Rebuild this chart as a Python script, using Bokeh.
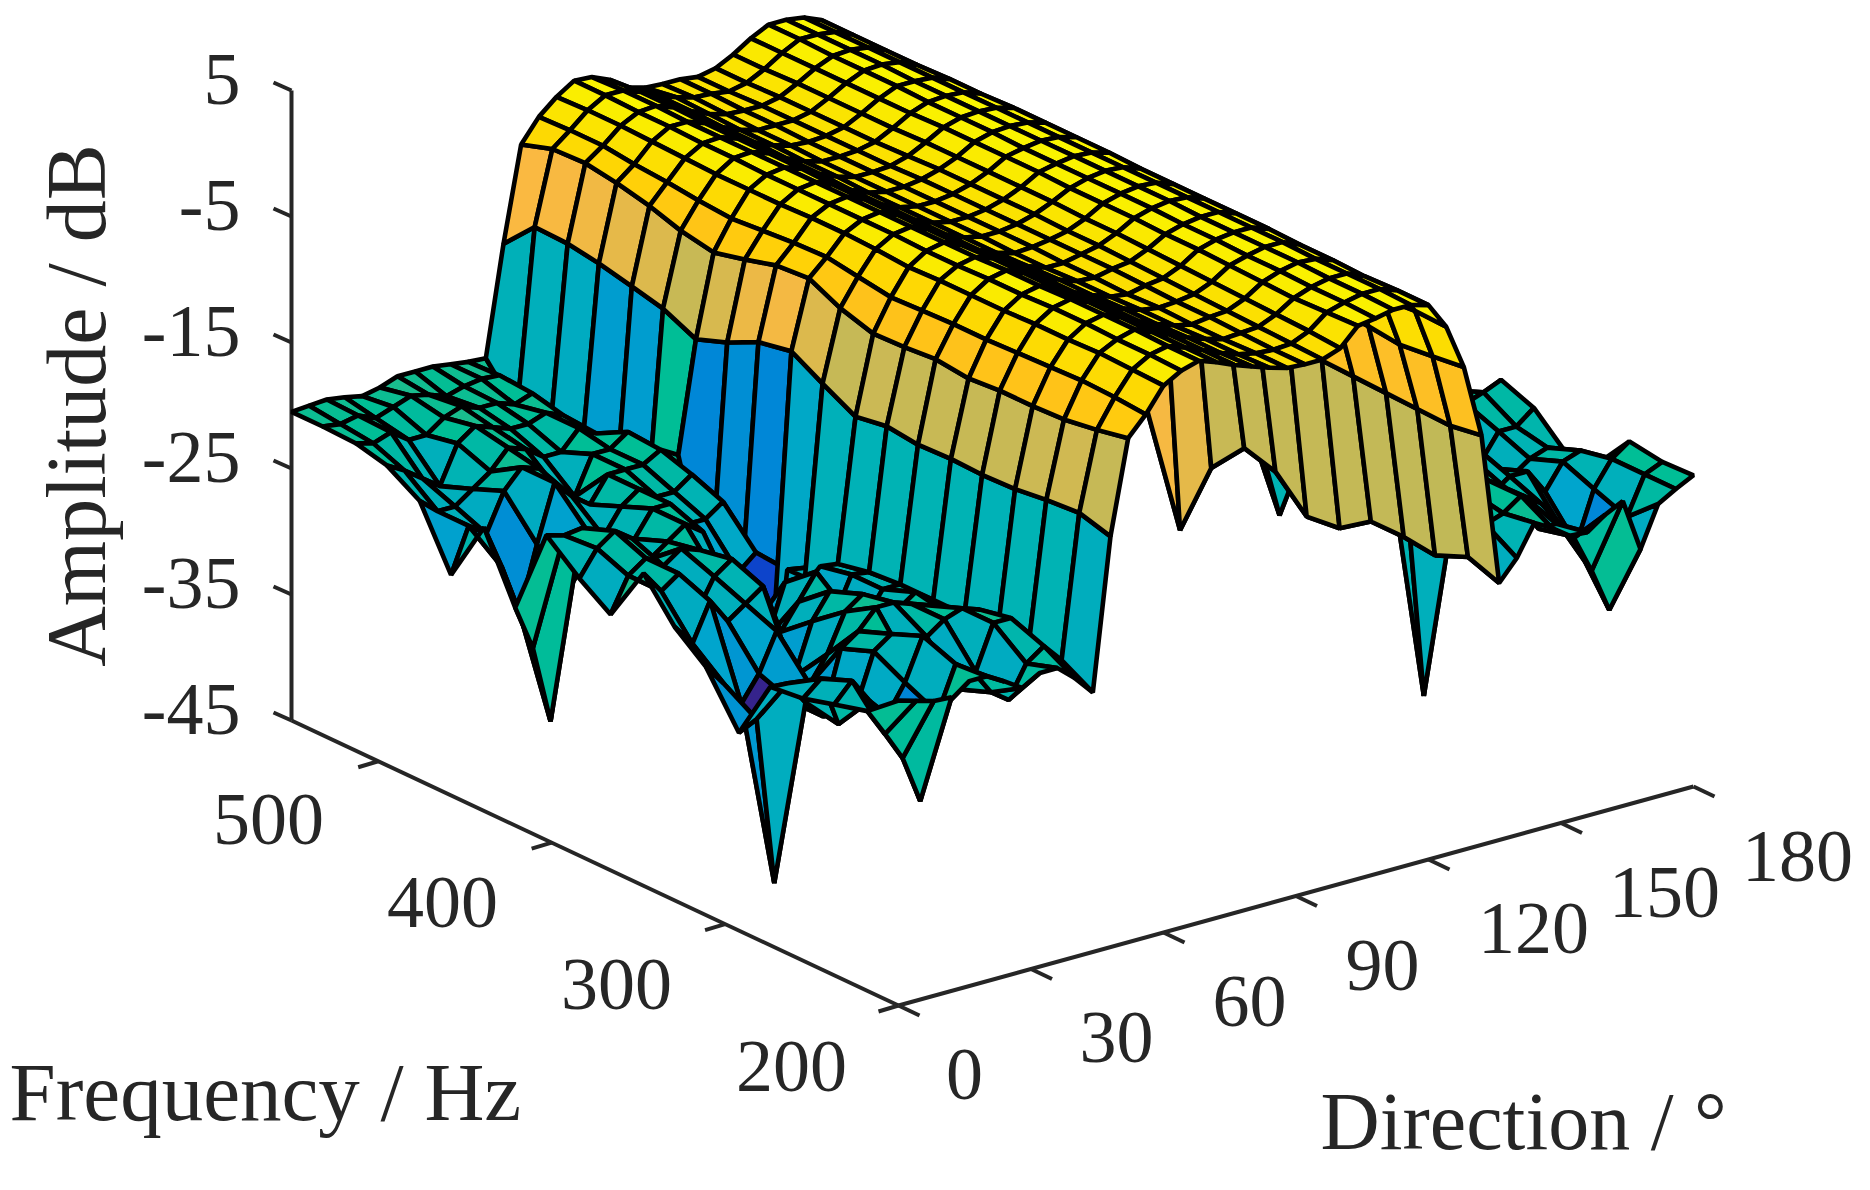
import numpy as np
from bokeh.plotting import figure
from bokeh.models import ColumnDataSource
from bokeh.core.properties import value
from bokeh.embed import file_html
from bokeh.resources import INLINE

directions = list(range(0, 181, 4))
frequencies = [200, 218, 237, 255, 274, 292, 311, 329, 347, 366, 384, 403, 421, 439, 458, 476, 495, 513, 532, 550]

a00 = [-20.8,-21.2,-21.6,-21.7,-20.8,-20.8,-21.6,-22.5,-21.7,-21.7,-22.9,-24.4,-12.4,-5,-3.5,-1.6,-.8,-.4,-.9,-1.5,-2,-2.5,-2.9,-3,-3,-2.5,-1.1,-.9,-.6,-.6,-1,-3.1,-6.7,-12.5,-24.6,-23,-20.6,-21.4,-22.4,-22.5,-21.5,-20.8,-25,-21.8,-21,-20.3]
a01 = [-22.8,-25,-27.3,-31.1,-24.5,-21,-22,-24,-25,-22.5,-21.5,-23,-11.7,-5.5,-3.3,-1.5,-.7,-.4,-.9,-1.5,-2.1,-2.6,-2.9,-3,-2.9,-2.3,-1.2,-.8,-.5,-.5,-1,-3,-7,-12.9,-23.7,-21.5,-21,-20,-23,-23,-24.5,-27.5,-31,-24,-21,-20.4]
a02 = [-23.5,-22,-24,-25.5,-23.3,-20,-23,-25,-24,-20.5,-20.5,-23,-11.9,-5.9,-3.2,-1.4,-.7,-.3,-.9,-1.5,-2.1,-2.6,-3,-2.9,-2.8,-2.2,-1.3,-.8,-.5,-.5,-1.1,-3.2,-7.3,-12.8,-24.8,-22,-20.5,-20,-21,-22,-23,-25,-27,-23,-21,-20]
a03 = [-24.2,-23,-27,-26,-22,-21,-24,-22,-21,-20.5,-21,-23.2,-12.2,-6,-3.3,-1.5,-.6,-.3,-.9,-1.6,-2.2,-2.7,-3,-2.8,-2.7,-2.1,-1.2,-.7,-.4,-.5,-1,-3.1,-7,-12.7,-24.5,-23,-24,-22,-20,-23,-22,-22,-24,-22,-21.5,-22.9]
a04 = [-24.5,-24.6,-26.5,-28,-23,-22,-20.5,-20.5,-21,-21.5,-22.5,-23,-12.3,-6,-3.4,-1.5,-.6,-.3,-.9,-1.6,-2.2,-2.7,-2.9,-2.8,-2.6,-2,-1.1,-.7,-.4,-.4,-1,-3,-6.9,-12.6,-24.5,-22,-23,-39.5,-21,-22,-21,-23,-24,-23,-22.5,-23.2]
a05 = [-29.3,-28.6,-42,-28,-27,-25,-22,-21,-22,-23,-22,-23,-12.2,-6.2,-3.5,-1.6,-.7,-.4,-1,-1.7,-2.3,-2.8,-3,-2.7,-2.5,-1.9,-1,-.6,-.4,-.4,-.9,-3,-6.8,-12.5,-26.2,-24,-22,-24,-23,-23,-24,-25,-24,-22,-22,-20.9]
a06 = [-25.3,-27,-29,-27,-24,-28,-24,-22,-24,-25,-23,-23,-12.3,-5.9,-3.5,-1.6,-.7,-.4,-1,-1.7,-2.3,-2.8,-2.9,-2.6,-2.4,-1.8,-1,-.6,-.4,-.4,-.9,-2.9,-6.7,-12.5,-26.5,-25,-21,-22,-24,-24,-23,-23,-23,-21,-20.5,-19.9]
a07 = [-23.3,-25,-22,-24,-23,-22,-26,-24,-22,-26,-23,-23.2,-12,-6.1,-3.6,-1.6,-.8,-.5,-1,-1.8,-2.4,-2.9,-2.9,-2.6,-2.3,-1.7,-.9,-.5,-.3,-.4,-.9,-2.9,-6.8,-12.4,-24.1,-23,-22,-24,-23,-22,-22,-22,-21.5,-21,-21.5,-22.9]
a08 = [-20.2,-22,-21,-24.5,-22,-21,-24,-28,-24,-25,-23.5,-23.7,-12.4,-6.2,-3.7,-1.7,-.8,-.5,-1.1,-1.9,-2.5,-2.9,-2.8,-2.6,-2.3,-1.7,-.9,-.5,-.3,-.4,-.9,-2.8,-6.6,-12.2,-23.4,-24,-29.5,-23,-22,-21,-21,-22,-22,-22,-22,-22]
a09 = [-24.7,-22,-21,-22,-21,-21.5,-24,-26,-29,-37,-25,-26,-11,-5.4,-3.3,-1.5,-.7,-.5,-1.1,-1.9,-2.5,-2.8,-2.8,-2.6,-2.2,-1.6,-.9,-.5,-.3,-.4,-.9,-2.7,-6,-10.5,-26.2,-24,-23,-22,-22,-22,-22,-22,-22,-22,-22,-22]
a10 = [-23,-21,-20,-21,-23,-22,-21,-22,-27,-26,-24.8,-31,-9.6,-4.2,-2.9,-1.4,-.7,-.5,-1.1,-1.9,-2.5,-2.8,-2.8,-2.6,-2.2,-1.6,-.8,-.5,-.3,-.4,-.8,-2.6,-5.5,-9.5,-32.3,-25,-23,-22,-22,-22,-22,-22,-22,-22,-22,-22]
a11 = [-20.8,-21.2,-21,-22,-24,-23,-21,-21,-23,-23,-22,-30,-10.1,-4.4,-3,-1.4,-.7,-.5,-1.1,-1.9,-2.5,-2.8,-2.8,-2.6,-2.2,-1.6,-.8,-.5,-.3,-.4,-.8,-2.7,-5.6,-9.5,-24,-23,-23,-22,-22,-22,-22,-22,-22,-22,-22,-22]
a12 = [-27.7,-31.3,-37.5,-27.5,-23,-24,-22,-21,-22,-22,-21,-31,-11.3,-5.1,-3.2,-1.5,-.7,-.5,-1.1,-1.9,-2.5,-2.8,-2.8,-2.6,-2.2,-1.6,-.8,-.4,-.3,-.4,-.8,-2.8,-6,-10,-23,-23,-22,-22,-22,-22,-22,-22,-22,-22,-22,-22]
a13 = [-22.5,-26,-30,-25,-20.5,-22,-23,-21,-21,-21,-20.2,-21,-12.2,-5.7,-3.4,-1.5,-.7,-.5,-1,-1.8,-2.4,-2.8,-2.8,-2.7,-2.3,-1.6,-.8,-.4,-.3,-.4,-.8,-2.9,-6.5,-11,-23,-22,-22,-22,-22,-22,-22,-22,-22,-22,-22,-22]
a14 = [-27.5,-24,-25,-22,-20.5,-21,-23,-24,-21,-21,-20,-28,-11,-5.2,-3.2,-1.5,-.6,-.5,-1,-1.8,-2.4,-2.8,-2.8,-2.7,-2.4,-1.7,-.9,-.4,-.3,-.4,-.9,-3,-6.8,-12,-22,-22,-22,-22,-22,-22,-22,-22,-22,-22,-22,-22]
a15 = [-22.8,-24,-24,-23,-22,-20.5,-21,-22,-22,-20.5,-21.3,-28,-10.4,-4.4,-2.9,-1.4,-.6,-.5,-1,-1.7,-2.3,-2.7,-2.8,-2.7,-2.4,-1.7,-.9,-.3,-.3,-.4,-.9,-3,-7,-12,-22,-22,-22,-22,-22,-22,-22,-22,-22,-22,-22,-22]
a16 = [-21.2,-22,-23,-24,-21,-20,-20.5,-21,-21,-20.5,-21.1,-25,-9.8,-3.8,-2.7,-1.3,-.5,-.5,-1,-1.7,-2.3,-2.7,-2.7,-2.7,-2.4,-1.7,-.9,-.3,-.2,-.4,-1,-3,-7,-12,-22,-22,-22,-22,-22,-22,-22,-22,-22,-22,-22,-22]
a17 = [-20.6,-21,-20.5,-21.5,-21.5,-20.5,-20,-20.5,-20.5,-21,-20.5,-24,-9.4,-3.4,-2.4,-1.2,-.5,-.4,-.9,-1.6,-2.2,-2.6,-2.7,-2.7,-2.4,-1.7,-.9,-.3,-.2,-.4,-1,-3,-7,-12,-22,-22,-22,-22,-22,-22,-22,-22,-22,-22,-22,-22]
a18 = [-20.5,-20.7,-20.4,-21,-20.5,-20,-20.3,-20.8,-20.4,-20.2,-20.3,-23.5,-9.3,-3.5,-2.4,-1.2,-.4,-.4,-.9,-1.6,-2.1,-2.5,-2.6,-2.8,-2.5,-1.8,-.9,-.2,-.2,-.4,-1,-3,-7,-12,-22,-22,-22,-22,-22,-22,-22,-22,-22,-22,-22,-22]
a19 = [-20.5,-20.4,-20.3,-20.5,-20.8,-20.5,-20,-20,-20,-20.2,-20.4,-20.5,-11.8,-4.3,-2.5,-1.3,-.4,-.5,-1.1,-2.1,-2.5,-2.6,-2.6,-2.8,-2.5,-1.8,-.9,-.2,-.2,-.4,-1,-3,-7,-12,-22,-22,-22,-22,-22,-22,-22,-22,-22,-22,-22,-22]

amplitude = np.array([a00,a01,a02,a03,a04,a05,a06,a07,a08,a09,a10,a11,a12,a13,a14,a15,a16,a17,a18,a19])

z_ticks = [5, -5, -15, -25, -35, -45]
f_ticks = [200, 300, 400, 500]
d_ticks = [0, 30, 60, 90, 120, 150, 180]

# colour scale of the surface, z value -> colour as seen in the picture
cz = [-40,-36,-31,-27,-23.2,-21,-15,-13,-12,-9.3,-6,-4,-2,0]
cr = [53,0,0,0,0,0,150,192,203,250,255,255,250,250]
cg = [35,80,135,165,178,190,188,185,185,185,195,212,232,248]
cb = [140,225,215,205,183,150,105,88,85,65,25,5,0,0]

def colour(v):
    return "#%02x%02x%02x" % (int(np.interp(v,cz,cr)), int(np.interp(v,cz,cg)), int(np.interp(v,cz,cb)))

def proj(d, f, z):
    x = 898 + d/180*795 - (f-200)/350*607
    y = 1005 - d/180*219 - (f-200)/350*285 - (z+45)*12.6
    return x, y

def depth(d, f, z):
    return d/180*561 + (f-200)/350*746 - (z+45)/50*246

faces = []
for j in range(len(frequencies)-1):
    for i in range(len(directions)-1):
        corners = [(i,j),(i+1,j),(i+1,j+1),(i,j+1)]
        xs, ys, ds = [], [], []
        for (a,b) in corners:
            px, py = proj(directions[a], frequencies[b], amplitude[b,a])
            xs.append(px); ys.append(py)
            ds.append(depth(directions[a], frequencies[b], amplitude[b,a]))
        faces.append((np.mean(ds), xs, ys, colour(amplitude[j,i])))
faces.sort(key=lambda t: -t[0])

W, H = 1860, 1180
p = figure(width=W, height=H, x_range=(0, W), y_range=(H, 0), output_backend="svg",
           toolbar_location=None, min_border=0)
p.xaxis.visible = False
p.yaxis.visible = False
p.grid.visible = False
p.outline_line_color = None

AX = "#262626"
LW = 4
x0, y0 = proj(0, 550, -45); x1, y1 = proj(0, 550, 5)
p.line([x0, x1], [y0, y1], line_color=AX, line_width=LW)
x2, y2 = proj(0, 200, -45)
p.line([x0, x2], [y0, y2], line_color=AX, line_width=LW)
x3, y3 = proj(180, 200, -45)
p.line([x2, x3], [y2, y3], line_color=AX, line_width=LW)

for z in z_ticks:
    tx, ty = proj(0, 550, z)
    p.line([tx, tx-18], [ty, ty-8], line_color=AX, line_width=LW)
    p.text([240], [ty-11], text=[str(z)], text_font=value("Liberation Serif"), text_font_size="74px",
           text_color=AX, text_align="right", text_baseline="middle")
for f in f_ticks:
    tx, ty = proj(0, f, -45)
    p.line([tx, tx-20], [ty, ty+6], line_color=AX, line_width=LW)
for d in d_ticks:
    tx, ty = proj(d, 200, -45)
    p.line([tx, tx+21], [ty, ty+10], line_color=AX, line_width=LW)

f_lab_x = [791, 616, 442, 268]
f_lab_y = [1066, 984, 902, 819]
for f, lx, ly in zip(f_ticks, f_lab_x, f_lab_y):
    p.text([lx], [ly], text=[str(f)], text_font=value("Liberation Serif"), text_font_size="74px",
           text_color=AX, text_align="center", text_baseline="middle")
d_lab_x = [964, 1116, 1249, 1382, 1533, 1664, 1797]
d_lab_y = [1074, 1037, 1001, 965, 928, 892, 856]
for d, lx, ly in zip(d_ticks, d_lab_x, d_lab_y):
    p.text([lx], [ly], text=[str(d)], text_font=value("Liberation Serif"), text_font_size="74px",
           text_color=AX, text_align="center", text_baseline="middle")

p.text([9], [1091], text=["Frequency / Hz"], text_font=value("Liberation Serif"), text_font_size="83px",
       text_color=AX, text_align="left", text_baseline="middle")
p.text([1320], [1121], text=["Direction / °"], text_font=value("Liberation Serif"), text_font_size="82px",
       text_color=AX, text_align="left", text_baseline="middle")
p.text([76], [405], text=["Amplitude / dB"], text_font=value("Liberation Serif"), text_font_size="84px",
       text_color=AX, text_align="center", text_baseline="middle", angle=[np.pi/2])

src = ColumnDataSource(dict(xs=[t[1] for t in faces], ys=[t[2] for t in faces], c=[t[3] for t in faces]))
p.patches("xs", "ys", source=src, fill_color="c", line_color="black", line_width=4.6)

open("out.html", "w").write(file_html(p, INLINE))
